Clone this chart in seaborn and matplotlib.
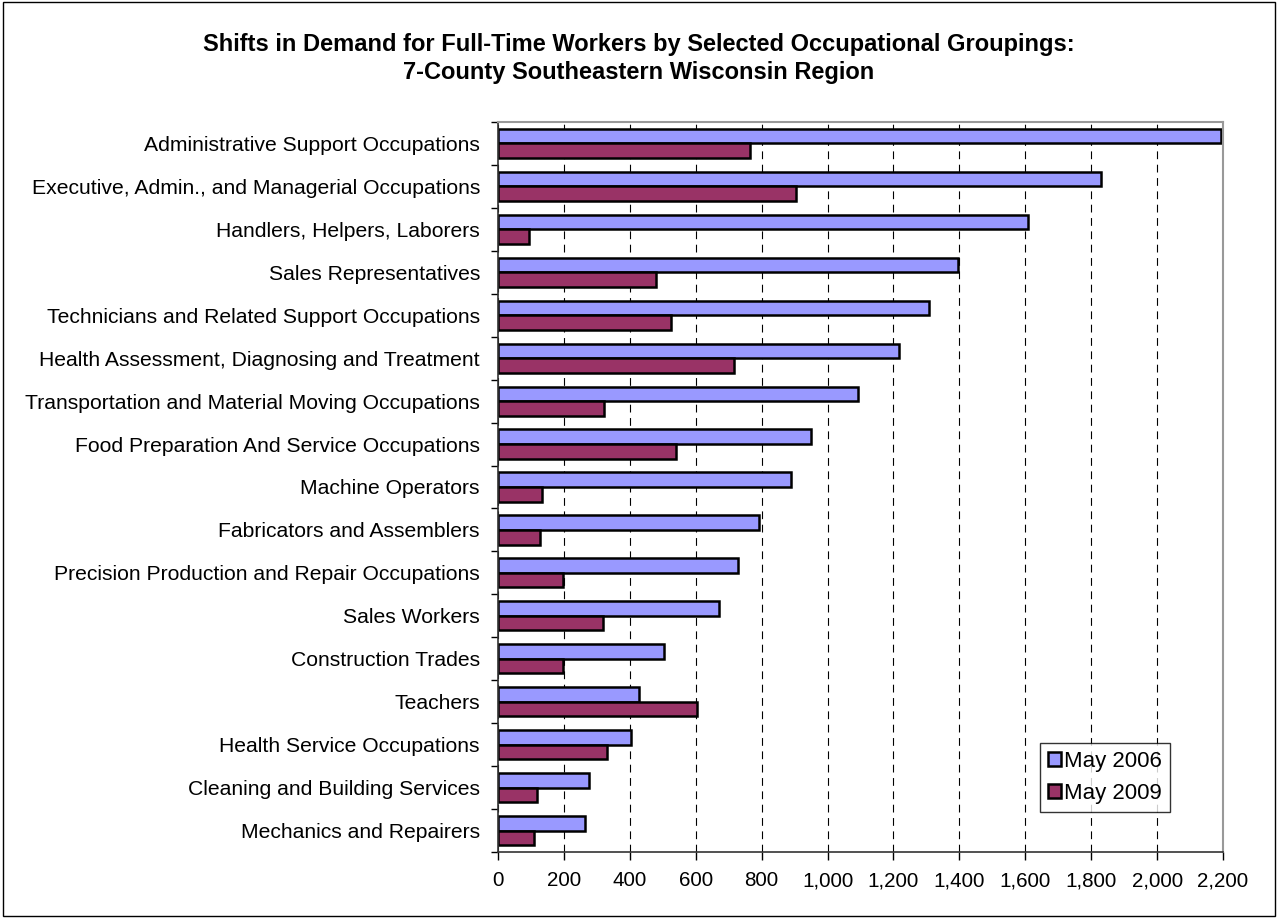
import numpy as np
import pandas as pd
import matplotlib.pyplot as plt
import matplotlib.patches as mpatches
from matplotlib.ticker import FuncFormatter, MultipleLocator, FixedLocator
import seaborn as sns

# ── Data ─────────────────────────────────────────────────────
occupations = [
    'Administrative Support Occupations',
    'Executive, Admin., and Managerial Occupations',
    'Handlers, Helpers, Laborers',
    'Sales Representatives',
    'Technicians and Related Support Occupations',
    'Health Assessment, Diagnosing and Treatment',
    'Transportation and Material Moving Occupations',
    'Food Preparation And Service Occupations',
    'Machine Operators',
    'Fabricators and Assemblers',
    'Precision Production and Repair Occupations',
    'Sales Workers',
    'Construction Trades',
    'Teachers',
    'Health Service Occupations',
    'Cleaning and Building Services',
    'Mechanics and Repairers',
]
may_2006 = [2195, 1830, 1609, 1397, 1309, 1216, 1093, 949, 888, 793, 728, 670, 503, 429, 404, 277, 265]
may_2009 = [764, 905, 95, 479, 526, 717, 321, 541, 132, 128, 196, 318, 196, 605, 330, 119, 108]
periods = ['May 2006', 'May 2009']
colors = ['#9999FF', '#993366']

df = pd.DataFrame({'occupation': occupations, periods[0]: may_2006, periods[1]: may_2009})
df = df.melt(id_vars='occupation', var_name='period', value_name='workers')

# ── Plot ─────────────────────────────────────────────────────
sns.set_style('white')
plt.rcParams['font.family'] = ['Liberation Sans', 'DejaVu Sans']
for key in ['text.color', 'axes.labelcolor', 'xtick.color', 'ytick.color']:
    plt.rcParams[key] = 'black'

fig = plt.figure(figsize=(12.78, 9.18), dpi=100)
ax = fig.add_axes([0.3897, 0.0719, 0.957 - 0.3897, 0.8671 - 0.0719])

sns.barplot(data=df, y='occupation', x='workers', hue='period', orient='h',
            order=occupations, hue_order=periods, palette=colors,
            width=0.68, gap=0, edgecolor='black', linewidth=1.8,
            saturation=1, errorbar=None, ax=ax)

ax.set_xlim(0, 2200)
ax.set_ylim(len(occupations) - 0.5, -0.5)
ax.xaxis.set_major_locator(MultipleLocator(200))
ax.xaxis.set_major_formatter(FuncFormatter(lambda v, p: f'{int(v):,}'))
ax.grid(axis='x', color='black', linestyle=(0, (7, 5)), linewidth=0.8)
ax.grid(axis='y', visible=False)
ax.set_axisbelow(True)
ax.set_xlabel(''); ax.set_ylabel('')

# category boundary ticks on y, labels at the centers
ax.yaxis.set_minor_locator(FixedLocator(np.arange(-0.5, len(occupations), 1)))
ax.tick_params(axis='y', which='major', length=0, pad=13, labelsize=15.2)
ax.tick_params(axis='y', which='minor', length=5, width=1, color='black', left=True)
ax.tick_params(axis='x', which='major', length=6, width=1, color='black',
               bottom=True, pad=8, labelsize=14.9)

for side in ['left', 'bottom']:
    ax.spines[side].set_color('#333333'); ax.spines[side].set_linewidth(1.2)
for side in ['top', 'right']:
    ax.spines[side].set_color('#999999'); ax.spines[side].set_linewidth(1.5)

handles = [mpatches.Patch(facecolor=c, edgecolor='black', linewidth=1.8, label=p)
           for c, p in zip(colors, periods)]
leg = ax.legend(handles=handles, loc='upper left', bbox_to_anchor=(0.7476, 0.1493),
                fontsize=16, frameon=True, fancybox=False, borderpad=0.35,
                handlelength=0.6, handleheight=0.6, handletextpad=0.15,
                labelspacing=0.5, borderaxespad=0)
leg.get_frame().set_edgecolor('black'); leg.get_frame().set_linewidth(1)

fig.text(0.5, 0.951, 'Shifts in Demand for Full-Time Workers by Selected Occupational Groupings:',
         ha='center', va='center', fontsize=17, fontweight='bold')
fig.text(0.5, 0.921, '7-County Southeastern Wisconsin Region',
         ha='center', va='center', fontsize=17, fontweight='bold')

fig.patches.append(mpatches.Rectangle((0.002, 0.002), 0.996, 0.996, transform=fig.transFigure,
                                      fill=False, edgecolor='black', linewidth=1))

fig.savefig('out.png', dpi=100)
